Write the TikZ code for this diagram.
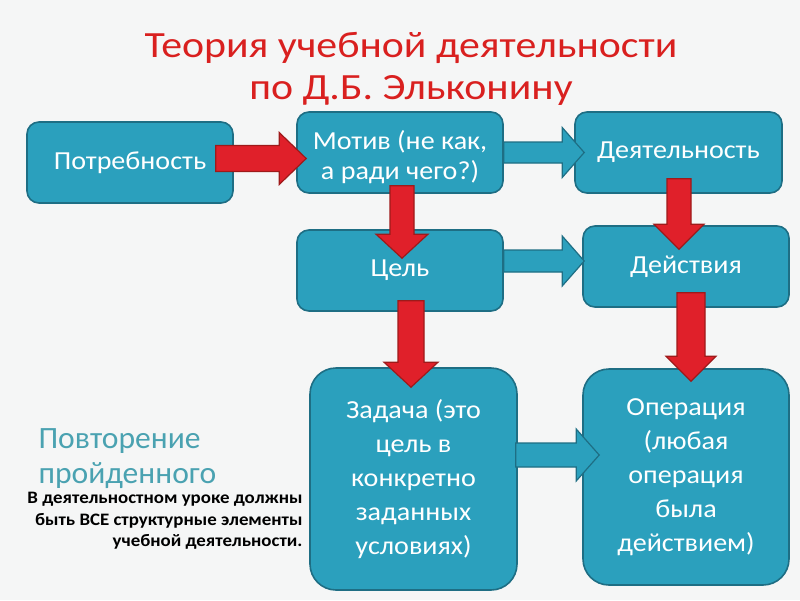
\documentclass[tikz,border=0pt]{standalone}
\usepackage{fontspec}
\setmainfont{Carlito}
\newfontfamily\titlefont[FakeStretch=1.13]{Carlito}
\newfontfamily\boxfont[FakeStretch=1.08]{Carlito}
\newfontfamily\notefont[FakeStretch=1.08]{Carlito}
\newfontfamily\repfont[FakeStretch=1.02]{Carlito}
\usetikzlibrary{calc}
\definecolor{boxfill}{HTML}{2BA0BD}
\definecolor{boxline}{HTML}{1E6E84}
\definecolor{redfill}{HTML}{E0202A}
\definecolor{redline}{HTML}{9E1A1A}
\definecolor{titlered}{HTML}{D9201F}
\definecolor{tealtext}{HTML}{4AA2B1}
\definecolor{bg}{HTML}{F5F6F6}
\tikzset{
  box/.style={draw=boxline, line width=1.6pt, fill=boxfill, rounded corners=12pt,
    text=white, align=center, font=\boxfont\fontsize{26}{34}\selectfont, inner sep=0pt},
  bigbox/.style={box, rounded corners=26pt},
  redarrow/.style={draw=redline, line width=1.2pt, fill=redfill, line join=miter},
  bluearrow/.style={draw=boxline, line width=1.2pt, fill=boxfill, line join=miter},
}
% horizontal block arrow: #1 style, #2 start, #3 tip, #4 half shaft, #5 half head, #6 head length
\newcommand\harrow[6]{%
  \draw[#1] let \p1=(#2), \p2=(#3) in
    (\x1,\y1+#4) -- (\x2-#6,\y1+#4) -- (\x2-#6,\y1+#5) -- (\x2,\y1)
    -- (\x2-#6,\y1-#5) -- (\x2-#6,\y1-#4) -- (\x1,\y1-#4) -- cycle;}
% vertical (downward) block arrow
\newcommand\varrow[6]{%
  \draw[#1] let \p1=(#2), \p2=(#3) in
    (\x1-#4,\y1) -- (\x1-#4,\y2+#6) -- (\x1-#5,\y2+#6) -- (\x1,\y2)
    -- (\x1+#5,\y2+#6) -- (\x1+#4,\y2+#6) -- (\x1+#4,\y1) -- cycle;}
\begin{document}
\begin{tikzpicture}[x=1pt,y=-1pt]
\path[fill=bg] (0,0) rectangle (800,600);
\useasboundingbox (0,0) rectangle (800,600);

\node[text=titlered, align=center, font=\titlefont\fontsize{37}{42}\selectfont] (title) at (411,69)
  {Теория учебной деятельности\\по Д.Б. Эльконину};

\node[box, minimum width=206pt, minimum height=81pt] (pot) at (130,162.5) {Потребность};
\node[box, minimum width=206pt, minimum height=81pt, text depth=0pt] (motiv) at (400,152.5) {\raisebox{-5pt}{\shortstack{Мотив (не как,\\[4pt]а ради чего?)}}};
\node[box, minimum width=207pt, minimum height=81pt] (deyat) at (678.5,152.5) {\raisebox{-4pt}{Деятельность}};
\node[box, minimum width=206pt, minimum height=81pt] (cel) at (400,270.5) {\raisebox{-2pt}{Цель}};
\node[box, minimum width=206pt, minimum height=81pt] (deyst) at (686,266.5) {\raisebox{-2pt}{Действия}};
\node[bigbox, minimum width=207pt, minimum height=222pt] (zad) at (413.5,479)
  {Задача (это\\цель в\\конкретно\\заданных\\условиях)};
\node[bigbox, minimum width=206pt, minimum height=216pt] (oper) at (686,477)
  {Операция\\(любая\\операция\\была\\действием)};

\node[anchor=north west, align=left, text=tealtext, font=\repfont\fontsize{31}{35}\selectfont] (rep) at (35,425)
  {Повторение\\пройденного};
\node[anchor=north east, align=right, font=\notefont\bfseries\fontsize{17.5}{21.5}\selectfont] (note) at (306,489)
  {В деятельностном уроке должны\\быть ВСЕ структурные элементы\\учебной деятельности.};

% connectors
\coordinate (a1s) at ($(pot.east)+(-18,-4)$);
\coordinate (a1t) at ($(motiv.west)+(10,5.5)$);
\harrow{redarrow}{a1s}{a1t}{13pt}{26pt}{27pt}

\coordinate (a2s) at (motiv.east);
\coordinate (a2t) at ($(deyat.west)+(10,0)$);
\harrow{bluearrow}{a2s}{a2t}{10.5pt}{25pt}{22pt}

\coordinate (a3s) at ($(motiv.south)+(2,-8)$);
\coordinate (a3t) at ($(cel.north)+(2,29)$);
\varrow{redarrow}{a3s}{a3t}{12pt}{26pt}{24pt}

\coordinate (a4s) at ($(cel.east)+(0,-9.5)$);
\coordinate (a4t) at ($(deyst.west)+(2,-5.5)$);
\harrow{bluearrow}{a4s}{a4t}{11pt}{25pt}{22pt}

\coordinate (a5s) at ($(deyat.south)+(0.5,-15)$);
\coordinate (a5t) at ($(deyst.north)+(-7,24)$);
\varrow{redarrow}{a5s}{a5t}{12pt}{25pt}{25pt}

\coordinate (a6s) at ($(cel.south)+(11,-11)$);
\coordinate (a6t) at ($(zad.north)+(-2.5,20)$);
\varrow{redarrow}{a6s}{a6t}{13pt}{27pt}{25pt}

\coordinate (a7s) at ($(deyst.south)+(5,-15)$);
\coordinate (a7t) at ($(oper.north)+(5,13)$);
\varrow{redarrow}{a7s}{a7t}{14pt}{25pt}{25pt}

\coordinate (a8s) at ($(zad.east)+(-2,-24)$);
\coordinate (a8t) at ($(oper.west)+(17,-22)$);
\harrow{bluearrow}{a8s}{a8t}{12pt}{26pt}{23pt}
\end{tikzpicture}
\end{document}
